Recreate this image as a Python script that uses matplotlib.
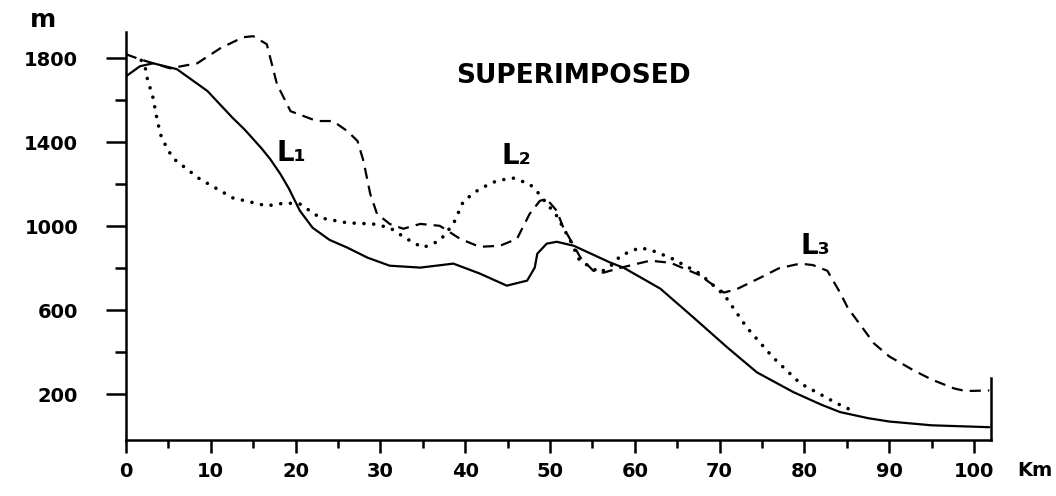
import matplotlib
matplotlib.use("Agg")
import matplotlib.pyplot as plt
from matplotlib.ticker import MultipleLocator, FixedLocator

# ---- data (km, m) ----
l1_km = [0, 1.65, 3.2, 6, 9.6, 12.6, 14, 16, 17, 18.2, 19.2, 20.5, 22, 24, 26.1, 28.5, 31.1, 34.7,
         38.6, 41.7, 44.9, 47.3, 48.2, 48.5, 49.6, 50.8, 52.8, 57.1, 58.7, 63, 66.9, 70.9,
         74.4, 78.7, 82, 84.2, 87.5, 90, 95, 101.8]
l1_m = [1714, 1762, 1776, 1748, 1644, 1515, 1460, 1370, 1320, 1249, 1180, 1074, 993, 935, 898, 850,
        812, 803, 822, 775, 717, 741, 803, 869, 917, 926, 907, 827, 802, 703, 566, 423,
        304, 210, 150, 115, 86, 70, 52, 43]

l2_km = [1.8, 2.2, 2.5, 3.2, 3.7, 4.2, 5.5, 8.7, 12.6, 16.6, 18.8, 20.5, 22.9, 26.1, 29.1, 31.1,
         33.1, 35, 37, 38.6, 39.8, 41.7, 43.7, 45.6, 47.6, 48.6, 50.8, 52.4, 53.5, 55.9, 57.5,
         58.3, 60.6, 62, 64.2, 67.7, 70.6, 73.2, 76.3, 79.5, 83.8, 86]
l2_m = [1790, 1771, 1705, 1610, 1500, 1420, 1325, 1225, 1135, 1097, 1111, 1106, 1040, 1016, 1011, 993,
        940, 898, 931, 1011, 1120, 1178, 1216, 1230, 1201, 1159, 1049, 931, 836, 779, 821,
        860, 898, 885, 850, 774, 670, 518, 375, 252, 157, 115]

l3_km = [0, 1.65, 5.2, 8.4, 11.1, 13.8, 15, 16.6, 17.8, 19.4, 22.5, 24.4, 26.1, 27.3, 28, 28.8,
         29.6, 31.1, 32.7, 34.7, 37, 39.4, 41.7, 44.1, 46.1, 47.6, 48.8, 49.6, 50.8, 51.5,
         53.6, 55.1, 56.3, 58.3, 61.8, 64.2, 67.5, 70.5, 72, 74.8, 77, 79.5, 81, 82.7, 84.2,
         85.1, 88.2, 90, 92.9, 95, 97.6, 99, 101.8]
l3_m = [1819, 1795, 1752, 1776, 1847, 1900, 1905, 1867, 1677, 1548, 1501, 1501, 1453, 1406, 1311, 1154,
        1059, 1011, 988, 1011, 1002, 940, 902, 907, 940, 1059, 1121, 1130, 1073, 1000,
        850, 788, 779, 802, 836, 826, 770, 684, 700, 755, 800, 822, 815, 788, 684,
        612, 442, 380, 313, 270, 228, 215, 218]

x_major = [0, 10, 20, 30, 40, 50, 60, 70, 80, 90, 100]
x_labels = ["0", "10", "20", "30", "40", "50", "60", "70", "80", "90", "100"]
y_major = [200, 600, 1000, 1400, 1800]
y_labels = ["200", "600", "1000", "1400", "1800"]
y_minor = [400, 800, 1200, 1600]

plt.rcParams['font.family'] = ['DejaVu Sans']

fig = plt.figure(figsize=(10.56, 4.96), dpi=100)
ax = fig.add_axes([126/1056, 56/496, 865/1056, 408/496])
ax.set_xlim(0, 102)
ax.set_ylim(-18, 1925)

ax.plot(l1_km, l1_m, color='black', lw=1.6, solid_capstyle='round', solid_joinstyle='round')
ax.plot(l2_km, l2_m, color='black', lw=2.6, linestyle=(0, (0.01, 2.7)), dash_capstyle='round')
ax.plot(l3_km, l3_m, color='black', lw=1.6, linestyle=(0, (5, 3.2)))

for s in ['top']:
    ax.spines[s].set_visible(False)
for s in ['left', 'bottom', 'right']:
    ax.spines[s].set_linewidth(1.8)
ax.spines['right'].set_bounds(-18, 276)

ax.xaxis.set_major_locator(FixedLocator(x_major))
ax.set_xticklabels(x_labels)
ax.xaxis.set_minor_locator(MultipleLocator(5))
ax.yaxis.set_major_locator(FixedLocator(y_major))
ax.set_yticklabels(y_labels)
ax.yaxis.set_minor_locator(FixedLocator(y_minor))

ax.tick_params(axis='x', which='major', direction='out', length=9.5, width=1.8, pad=6,
               labelsize=14)
ax.tick_params(axis='x', which='minor', direction='out', length=5.5, width=1.8)
ax.tick_params(axis='y', which='major', direction='out', length=14.5, width=1.8, pad=20,
               labelsize=14)
ax.tick_params(axis='y', which='minor', direction='out', length=8, width=1.8)
ax.tick_params(right=False, top=False, which='both')
for lab in ax.get_xticklabels() + ax.get_yticklabels():
    lab.set_fontweight('bold')

ax.text(52.8, 1715, "SUPERIMPOSED", ha='center', va='center', fontsize=19, fontweight='bold')
ax.text(19.5, 1349, "L\u2081", ha='center', va='center', fontsize=20, fontweight='bold')
ax.text(46.0, 1335, "L\u2082", ha='center', va='center', fontsize=20, fontweight='bold')
ax.text(81.3, 907, "L\u2083", ha='center', va='center', fontsize=20, fontweight='bold')

fig.text(43/1056, 1 - 20/496, "m", ha='center', va='center', fontsize=18, fontweight='bold')
fig.text(1017/1056, 1 - 470/496, "Km", ha='left', va='center', fontsize=14, fontweight='bold')

fig.savefig("out.png", dpi=100)
